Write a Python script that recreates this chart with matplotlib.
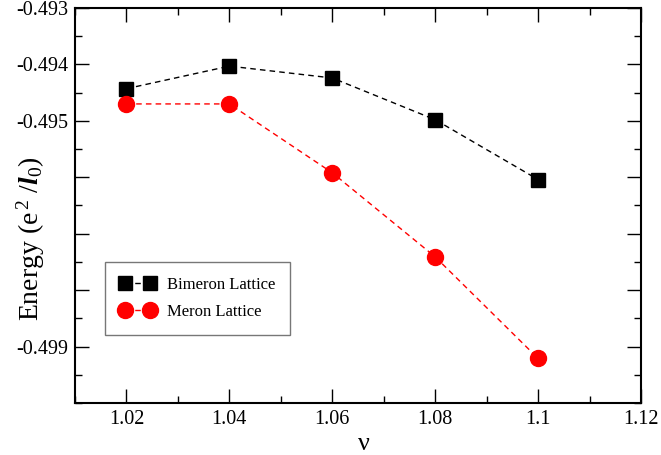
import matplotlib
matplotlib.use("Agg")
import matplotlib.pyplot as plt
from matplotlib.ticker import MultipleLocator, FixedLocator, FixedFormatter

plt.rcParams['font.family'] = ['Liberation Serif', 'DejaVu Serif']
plt.rcParams['mathtext.fontset'] = 'custom'
plt.rcParams['mathtext.rm'] = 'Liberation Serif'
plt.rcParams['mathtext.it'] = 'Liberation Serif:italic'
plt.rcParams['mathtext.bf'] = 'Liberation Serif:bold'
plt.rcParams['mathtext.bfit'] = 'Liberation Serif:bold:italic'
plt.rcParams['axes.unicode_minus'] = False

nu = [1.02, 1.04, 1.06, 1.08, 1.10]
bimeron = [-0.49443, -0.49403, -0.49424, -0.49498, -0.49604]
meron = [-0.49470, -0.49470, -0.49592, -0.49741, -0.49921]

ytick_vals = [-0.499, -0.498, -0.497, -0.496, -0.495, -0.494, -0.493]
ytick_labels = ['-0.499', '', '', '', '-0.495', '-0.494', '-0.493']
xtick_vals = [1.02, 1.04, 1.06, 1.08, 1.10, 1.12]
xtick_labels = ['1.02', '1.04', '1.06', '1.08', '1.1', '1.12']

fig = plt.figure(figsize=(6.61, 4.55), dpi=100)
ax = fig.add_axes([75/661, 52/455, 566/661, 395/455])

ax.plot(nu, bimeron, color='black', ls=(0, (4, 3)), lw=1.0, marker='s',
        markersize=9.5, markerfacecolor='black', markeredgecolor='black',
        label='Bimeron Lattice')
ax.plot(nu, meron, color='red', ls=(0, (4, 3)), lw=1.0, marker='o',
        markersize=11.5, markerfacecolor='red', markeredgecolor='red',
        label='Meron Lattice')

ax.set_xlim(1.01, 1.12)
ax.set_ylim(-0.5, -0.493)

ax.xaxis.set_major_locator(FixedLocator(xtick_vals))
ax.xaxis.set_major_formatter(FixedFormatter(xtick_labels))
ax.xaxis.set_minor_locator(MultipleLocator(0.01))
ax.yaxis.set_major_locator(FixedLocator(ytick_vals))
ax.yaxis.set_major_formatter(FixedFormatter(ytick_labels))
ax.yaxis.set_minor_locator(MultipleLocator(0.0005))

ax.tick_params(which='both', direction='in', top=True, right=True, labelsize=14.5)
ax.tick_params(which='major', length=10, width=1, pad=5)
ax.tick_params(which='minor', length=5, width=1)
for s in ax.spines.values():
    s.set_linewidth(1.5)

ax.set_xlabel('ν', fontsize=19)
ax.xaxis.set_label_coords(0.51, -0.075)
ax.set_ylabel(r'Energy (e$^{\,2}$ /$\boldsymbol{l}_0$)', fontsize=20)
ax.yaxis.set_label_coords(-0.05, 0.415)

leg = ax.legend(loc='upper left', bbox_to_anchor=(30/566, (403-262)/395),
                fontsize=12, frameon=True, fancybox=False, borderpad=0.9,
                handlelength=2.1, handletextpad=0.7, labelspacing=0.65,
                borderaxespad=0, numpoints=2, markerscale=1.0)
leg.get_frame().set_edgecolor('#555555')
leg.get_frame().set_linewidth(1.0)

fig.savefig('out.png', dpi=100)
